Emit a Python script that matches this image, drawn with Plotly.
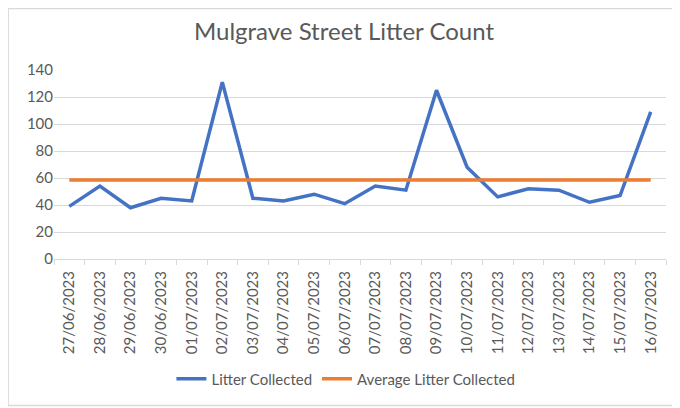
import plotly.graph_objects as go

# data
dates = ["27/06/2023", "28/06/2023", "29/06/2023", "30/06/2023", "01/07/2023",
         "02/07/2023", "03/07/2023", "04/07/2023", "05/07/2023", "06/07/2023",
         "07/07/2023", "08/07/2023", "09/07/2023", "10/07/2023", "11/07/2023",
         "12/07/2023", "13/07/2023", "14/07/2023", "15/07/2023", "16/07/2023"]
litter = [39, 54, 38, 45, 43, 131, 45, 43, 48, 41,
          54, 51, 125, 68, 46, 52, 51, 42, 47, 109]
average = [58.6] * len(dates)
y_ticks = [0, 20, 40, 60, 80, 100, 120, 140]

grey_text = "#595959"
grid = "#D9D9D9"
font = "Lato"

fig = go.Figure()
fig.add_trace(go.Scatter(x=dates, y=litter, mode="lines", name="Litter Collected",
                         line=dict(color="#4472C4", width=3.5)))
fig.add_trace(go.Scatter(x=dates, y=average, mode="lines", name="Average Litter Collected",
                         line=dict(color="#ED7D31", width=3.5)))

# page body has an 8px margin, so the figure is a bit smaller than the window
fig.update_layout(
    width=672, height=400,
    margin=dict(l=46, r=14, t=62, b=149),
    paper_bgcolor="white", plot_bgcolor="white",
    font=dict(family=font, size=15, color=grey_text),
    title=dict(text="Mulgrave Street Litter Count", x=0.5, xanchor="center",
               y=0.94, yanchor="middle",
               font=dict(family=font, size=24, color=grey_text)),
    legend=dict(orientation="h", x=0.477, xanchor="center", y=-0.635, yanchor="middle",
                font=dict(family=font, size=15, color=grey_text)),
    showlegend=True,
)
fig.update_xaxes(type="category", range=[-0.5, len(dates) - 0.5], tickangle=-90,
                 showline=True, linecolor=grid, linewidth=1, showgrid=False,
                 ticks="outside", tickson="boundaries", ticklen=5, tickcolor=grid,
                 ticklabelstandoff=5,
                 tickfont=dict(size=15, color=grey_text))
fig.update_yaxes(range=[0, 140], tickvals=y_ticks, showgrid=True, gridcolor=grid,
                 gridwidth=1, zeroline=False, showline=False, ticks="",
                 tickfont=dict(size=15, color=grey_text))

# thin outline around the whole chart area
fig.add_shape(type="rect", xref="paper", yref="paper",
              x0=-0.075, x1=1.03, y0=-0.775, y1=1.325,
              line=dict(color=grid, width=1.5))

fig.write_html("out.html")
